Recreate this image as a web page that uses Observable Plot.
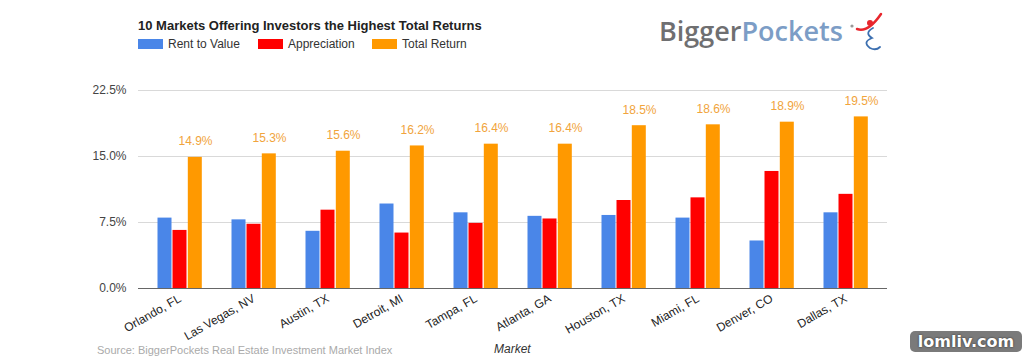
<!DOCTYPE html>
<html>
<head>
<meta charset="utf-8">
<script src="https://cdn.jsdelivr.net/npm/d3@7"></script>
<script src="https://cdn.jsdelivr.net/npm/@observablehq/plot@0.6"></script>
<style>
  html, body { margin: 0; padding: 0; background: #fff; }
  body { width: 1024px; height: 357px; position: relative; overflow: hidden; font-family: "Liberation Sans", Arial, sans-serif; }
  .abs { position: absolute; white-space: nowrap; }
  #title { left: 138px; top: 18px; font-size: 13px; font-weight: bold; color: #222; }
  .leg { top: 37px; font-size: 12px; color: #333; line-height: 14px; }
  .sw { display: inline-block; width: 25px; height: 10px; vertical-align: -1px; margin-right: 5px; }
  #logo { left: 659px; top: 12px; font-family: "Open Sans", sans-serif; font-weight: 600; font-size: 27px; letter-spacing: 0px; }
  #source { left: 97px; top: 344px; font-size: 11px; color: #aaa; }
  #xlabel { left: 494px; top: 342px; font-size: 12px; font-style: italic; color: #333; }
  #wm { left: 910px; top: 331px; width: 112px; height: 21px; background: #7a7a7a; border-radius: 5px; color: #fff; font-weight: bold; font-size: 16px; text-align: center; line-height: 21px; font-family: "DejaVu Sans", sans-serif; text-shadow: 0 0 2px #222; }
  #chart { position: absolute; left: 0; top: 0; }
</style>
</head>
<body>
<div id="chart"></div>
<div id="title" class="abs">10 Markets Offering Investors the Highest Total Returns</div>
<div id="legend"></div>
<div id="logo" class="abs"><span style="color:#6f6f71">Bigger</span><span style="color:#7c9dc6">Pockets</span></div>
<svg class="abs" style="left:845px;top:8px" width="50" height="50" viewBox="845 8 50 50">
  <circle cx="852" cy="26" r="1.6" fill="#999"/>
  <circle cx="870" cy="23" r="3" fill="#e8262d"/>
  <path d="M857 29 Q868 33 881 14" stroke="#e8262d" stroke-width="2.5" fill="none" stroke-linecap="round"/>
  <path d="M873 28 Q864 33 872 38 Q862 42 870 48 Q876 51 880 47" stroke="#3c6fb0" stroke-width="1.8" fill="none" stroke-linecap="round"/>
</svg>
<div id="source" class="abs">Source: BiggerPockets Real Estate Investment Market Index</div>
<div id="xlabel" class="abs">Market</div>
<div id="wm" class="abs">lomliv.com</div>
<script>
const markets = ["Orlando, FL", "Las Vegas, NV", "Austin, TX", "Detroit, MI", "Tampa, FL", "Atlanta, GA", "Houston, TX", "Miami, FL", "Denver, CO", "Dallas, TX"];
const rentToValue = [8.0, 7.8, 6.5, 9.6, 8.6, 8.2, 8.3, 8.0, 5.4, 8.6];
const appreciation = [6.6, 7.3, 8.9, 6.3, 7.4, 7.9, 10.0, 10.3, 13.3, 10.7];
const totalReturn = [14.9, 15.3, 15.6, 16.2, 16.4, 16.4, 18.5, 18.6, 18.9, 19.5];
const seriesNames = ["Rent to Value", "Appreciation", "Total Return"];
const seriesColors = ["#4a86e8", "#ff0000", "#ff9900"];
const yTicks = [0, 7.5, 15, 22.5];

const seriesValues = [rentToValue, appreciation, totalReturn];
const rows = [];
seriesNames.forEach((s, k) => markets.forEach((m, i) => rows.push({market: m, series: s, value: seriesValues[k][i]})));
const totals = markets.map((m, i) => ({market: m, value: totalReturn[i]}));

// legend
const legend = document.getElementById("legend");
const legX = [138, 258, 372];
seriesNames.forEach((s, k) => {
  const d = document.createElement("div");
  d.className = "abs leg";
  d.style.left = legX[k] + "px";
  d.innerHTML = `<span class="sw" style="background:${seriesColors[k]}"></span>${s}`;
  legend.appendChild(d);
});

const offsets = [-15, 0, 15.3];
const fmt = d => d.toFixed(1) + "%";

const chart = Plot.plot({
  width: 1024,
  height: 357,
  marginLeft: 138,
  marginRight: 137,
  marginTop: 90,
  marginBottom: 69,
  style: {fontFamily: "Liberation Sans, Arial, sans-serif", fontSize: "12px", background: "transparent"},
  x: {domain: markets, paddingInner: 0.8, paddingOuter: 0.4},
  y: {domain: [0, 22.5]},
  color: {domain: seriesNames, range: seriesColors},
  marks: [
    Plot.gridY(yTicks, {stroke: "#d9d9d9", strokeOpacity: 1}),
    ...seriesNames.map((s, k) => Plot.barY(rows.filter(r => r.series === s), {
      x: "market", y: "value", fill: "series", dx: offsets[k], insetLeft: 0.5, insetRight: 0.5
    })),
    Plot.ruleY([0], {stroke: "#666"}),
    Plot.text(totals, {x: "market", y: "value", text: d => fmt(d.value), dx: 15.5, dy: -16, fill: "#f1a43c", fontSize: 12}),
    Plot.axisY(yTicks, {tickSize: 0, tickPadding: 12, tickFormat: fmt, fill: "#444", fontSize: 12, label: null}),
    Plot.axisX({tickSize: 0, tickPadding: 9, tickRotate: -30, fill: "#222", fontSize: 12, label: null})
  ]
});
document.getElementById("chart").appendChild(chart);
</script>
</body>
</html>
